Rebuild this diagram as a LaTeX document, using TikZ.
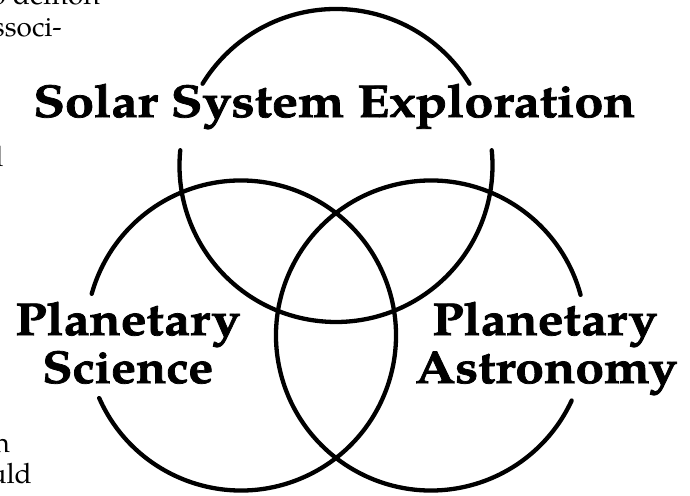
\documentclass[tikz,border=0pt]{standalone}
\usepackage{fontspec}
\setmainfont{TeX Gyre Pagella}
\newfontfamily\titlefont[BoldFeatures={FakeBold=1.6}]{TeX Gyre Pagella}
\usepackage{graphicx}
\newcommand{\fitw}[2]{\resizebox{#1}{\height}{#2}}
\begin{document}
\begin{tikzpicture}[x=1pt,y=1pt,
  ring/.style={line width=4.3pt, line cap=round},
  title/.style={inner sep=0pt, anchor=base west, font=\titlefont\bfseries\fontsize{46}{48}\selectfont},
  body/.style={inner sep=0pt, anchor=base east, font=\fontsize{28}{32}\selectfont}]
\useasboundingbox (0,0) rectangle (690,495);
% circle centres
\coordinate (ctop) at (336,329.5);
\coordinate (cleft) at (241,159.5);
\coordinate (cright) at (431,159.5);
% top circle (two arcs, gaps for the title)
\draw[ring] ([shift={(31.5:156.5)}]ctop) arc[start angle=31.5, end angle=148.5, radius=156.5];
\draw[ring] ([shift={(174.4:156.5)}]ctop) arc[start angle=174.4, end angle=365.6, radius=156.5];
% left circle
\draw[ring] ([shift={(203.8:155)}]cleft) arc[start angle=203.8, end angle=524.4, radius=155];
% right circle
\draw[ring] ([shift={(15.2:155)}]cright) arc[start angle=15.2, end angle=335.2, radius=155];
% labels
\node[title] (sse) at (33,378) {\fitw{602pt}{Solar System Exploration}};
\node[title] (ps1) at (15,160) {\fitw{225pt}{Planetary}};
\node[title] (ps2) at (42,112) {\fitw{171pt}{Science}};
\node[title] (pa1) at (432,160) {\fitw{225pt}{Planetary}};
\node[title] (pa2) at (415,112) {\fitw{262pt}{Astronomy}};
% fragments of the surrounding page text, cut at the left edge
\begin{scope}
\clip (0,0) rectangle (690,495);
\node[body] (f1) at (100,490) {to demon};
\node[body] (f2) at (62,458) {associ-};
\node[body] (f3) at (4,328) {d};
\node[body] (f4) at (10,43) {on};
\node[body] (f5) at (32,12) {ould};
\end{scope}
\end{tikzpicture}
\end{document}
